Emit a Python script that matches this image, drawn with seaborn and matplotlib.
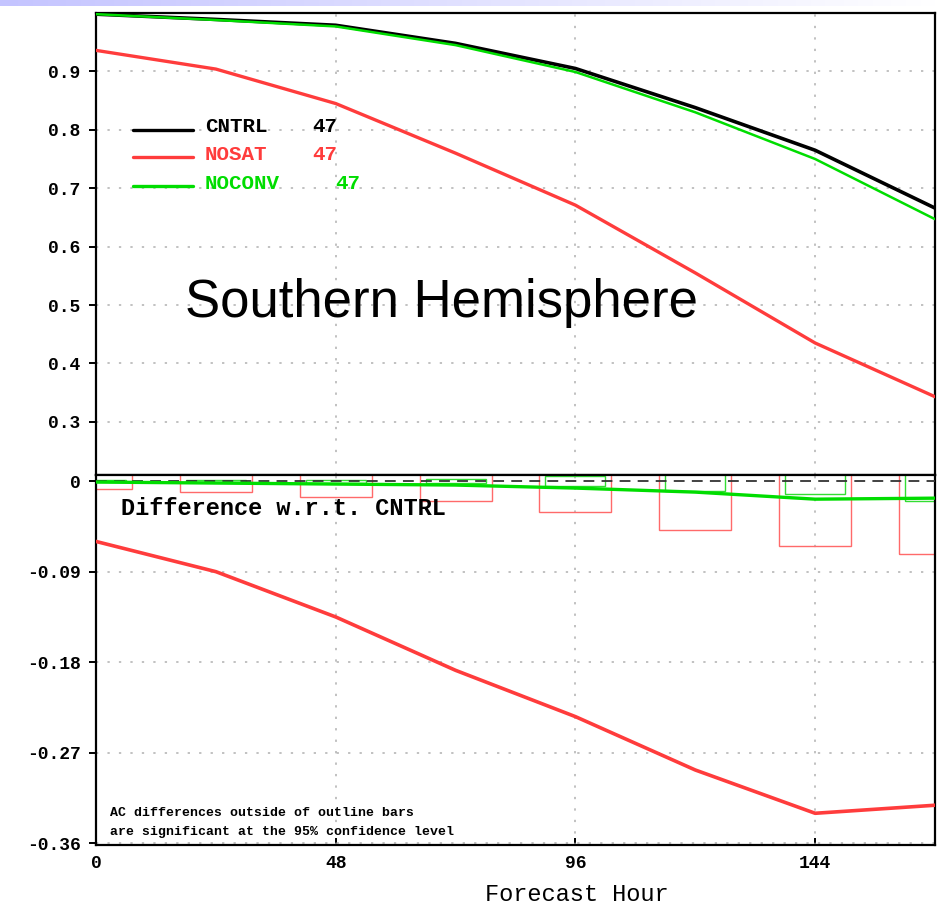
import numpy as np
import matplotlib
matplotlib.use("Agg")
import matplotlib.pyplot as plt
from matplotlib.colors import LinearSegmentedColormap
import seaborn as sns

# data
hours = [0, 24, 48, 72, 96, 120, 144, 168]
cntrl = [0.998, 0.989, 0.979, 0.948, 0.905, 0.838, 0.765, 0.666]
nosat = [0.936, 0.904, 0.845, 0.760, 0.671, 0.555, 0.435, 0.343]
noconv = [0.998, 0.988, 0.977, 0.945, 0.899, 0.830, 0.750, 0.647]

cntrl_diff = [0, 0, 0, 0, 0, 0, 0, 0]
nosat_diff = [-0.060, -0.090, -0.135, -0.188, -0.234, -0.287, -0.330, -0.322]
noconv_diff = [-0.001, -0.002, -0.003, -0.004, -0.007, -0.011, -0.018, -0.017]

# half heights of the significance outline bars
nosat_sig = [0.008, 0.011, 0.0155, 0.020, 0.031, 0.049, 0.065, 0.072]
noconv_sig = [0.001, 0.001, 0.0015, 0.002, 0.005, 0.010, 0.0127, 0.020]

top_ticks = [0.3, 0.4, 0.5, 0.6, 0.7, 0.8, 0.9]
top_labels = ["0.3", "0.4", "0.5", "0.6", "0.7", "0.8", "0.9"]
bot_ticks = [-0.36, -0.27, -0.18, -0.09, 0]
bot_labels = ["-0.36", "-0.27", "-0.18", "-0.09", "0"]
x_ticks = [0, 48, 96, 144]

RED = "#ff3c3c"
GREEN = "#00dd00"
BOXRED = "#ff6a6a"
BOXGREEN = "#33dd33"
GRID = "#b0b0b0"

sns.set_style("white")
plt.rcParams["font.family"] = ["Liberation Mono", "DejaVu Sans Mono"]
plt.rcParams["text.color"] = "black"
plt.rcParams["axes.labelcolor"] = "black"
plt.rcParams["xtick.color"] = "black"
plt.rcParams["ytick.color"] = "black"

fig = plt.figure(figsize=(9.38, 9.06), dpi=100)

# lavender strip at the top of the slide
strip = fig.add_axes([0, 1 - 6 / 906, 1, 6 / 906])
cmap = LinearSegmentedColormap.from_list("strip", ["#c4c4ff", "#ffffff"])
strip.imshow(np.linspace(0, 1, 256)[None, :], aspect="auto", cmap=cmap)
strip.axis("off")

L, R = 96 / 938, 935 / 938
ax1 = fig.add_axes([L, 1 - 475 / 906, R - L, (475 - 13) / 906])
ax2 = fig.add_axes([L, 1 - 845 / 906, R - L, (845 - 475) / 906])

grid_kw = dict(color=GRID, linestyle=(0, (1.5, 6)), linewidth=1.1, zorder=1)

for a in (ax1, ax2):
    a.set_xlim(0, 168)
    for s in a.spines.values():
        s.set_linewidth(1.6)
        s.set_color("black")
    for x in x_ticks[1:]:
        a.axvline(x, **grid_kw)

# ---- top panel: anomaly correlation
for y in top_ticks:
    ax1.axhline(y, **grid_kw)

sns.lineplot(x=hours, y=nosat, ax=ax1, color=RED, linewidth=2.4, zorder=3)
sns.lineplot(x=hours, y=cntrl, ax=ax1, color="black", linewidth=2.6, zorder=4)
sns.lineplot(x=hours, y=noconv, ax=ax1, color=GREEN, linewidth=1.8, zorder=5)
ax1.set_ylim(0.209, 1.0)
ax1.set_yticks(top_ticks)
ax1.set_yticklabels(top_labels, fontsize=13, fontweight="bold")
ax1.set_xticks(x_ticks)
ax1.tick_params(axis="x", length=0, labelbottom=False)
ax1.tick_params(axis="y", direction="out", length=5, width=1.4, pad=6, left=True)

# hand-drawn legend like the GrADS plot
leg = [("CNTRL", "black", 0.800, 0.796, 43.3),
       ("NOSAT", RED, 0.753, 0.748, 43.4),
       ("NOCONV", GREEN, 0.703, 0.699, 48.0)]
for name, col, ly, ty, nx in leg:
    ax1.plot([7.4, 19.4], [ly, ly], color=col, linewidth=2.4, zorder=4)
    ax1.text(21.8, ty, name, color=col, fontsize=15, fontweight="bold", va="baseline")
    ax1.text(nx, ty, "47", color=col, fontsize=15, fontweight="bold", va="baseline")

ax1.text(17.8, 0.4795, "Southern Hemisphere", fontsize=38, color="black",
         family=["Liberation Sans", "DejaVu Sans"], va="baseline", zorder=6)

# ---- bottom panel: difference w.r.t. CNTRL
for y in bot_ticks[:-1]:
    ax2.axhline(y, **grid_kw)

ax2.bar(hours, [2 * t for t in nosat_sig], bottom=[-t for t in nosat_sig], width=14.4,
        fill=False, edgecolor=BOXRED, linewidth=1.0, zorder=2)
ax2.bar(hours, [2 * t for t in noconv_sig], bottom=[-t for t in noconv_sig], width=12.0,
        fill=False, edgecolor=BOXGREEN, linewidth=1.0, zorder=2)

sns.lineplot(x=hours, y=cntrl_diff, ax=ax2, color="#333333", linewidth=1.3,
             linestyle=(0, (6, 4)), zorder=3)
sns.lineplot(x=hours, y=noconv_diff, ax=ax2, color=GREEN, linewidth=2.4, zorder=4)
sns.lineplot(x=hours, y=nosat_diff, ax=ax2, color=RED, linewidth=2.6, zorder=4)

ax2.set_ylim(-0.3615, 0.006)
ax2.set_yticks(bot_ticks)
ax2.set_yticklabels(bot_labels, fontsize=13, fontweight="bold")
ax2.set_xticks(x_ticks)
ax2.set_xticklabels([str(x) for x in x_ticks], fontsize=13, fontweight="bold")
ax2.tick_params(axis="y", direction="out", length=5, width=1.4, pad=6, left=True)
ax2.tick_params(axis="x", direction="in", length=5, width=1.4, pad=7, bottom=True)

fig.text(577 / 938, 1 - 901 / 906, "Forecast Hour", fontsize=17, ha="center",
         va="baseline")

ax2.text(5, -0.0335, "Difference w.r.t. CNTRL", fontsize=17, fontweight="bold",
         va="baseline", zorder=5)
ax2.text(2.8, -0.333, "AC differences outside of outline bars", fontsize=9.5,
         fontweight="bold", va="baseline", zorder=5)
ax2.text(2.8, -0.352, "are significant at the 95% confidence level", fontsize=9.5,
         fontweight="bold", va="baseline", zorder=5)

fig.savefig("out.png", dpi=100)
